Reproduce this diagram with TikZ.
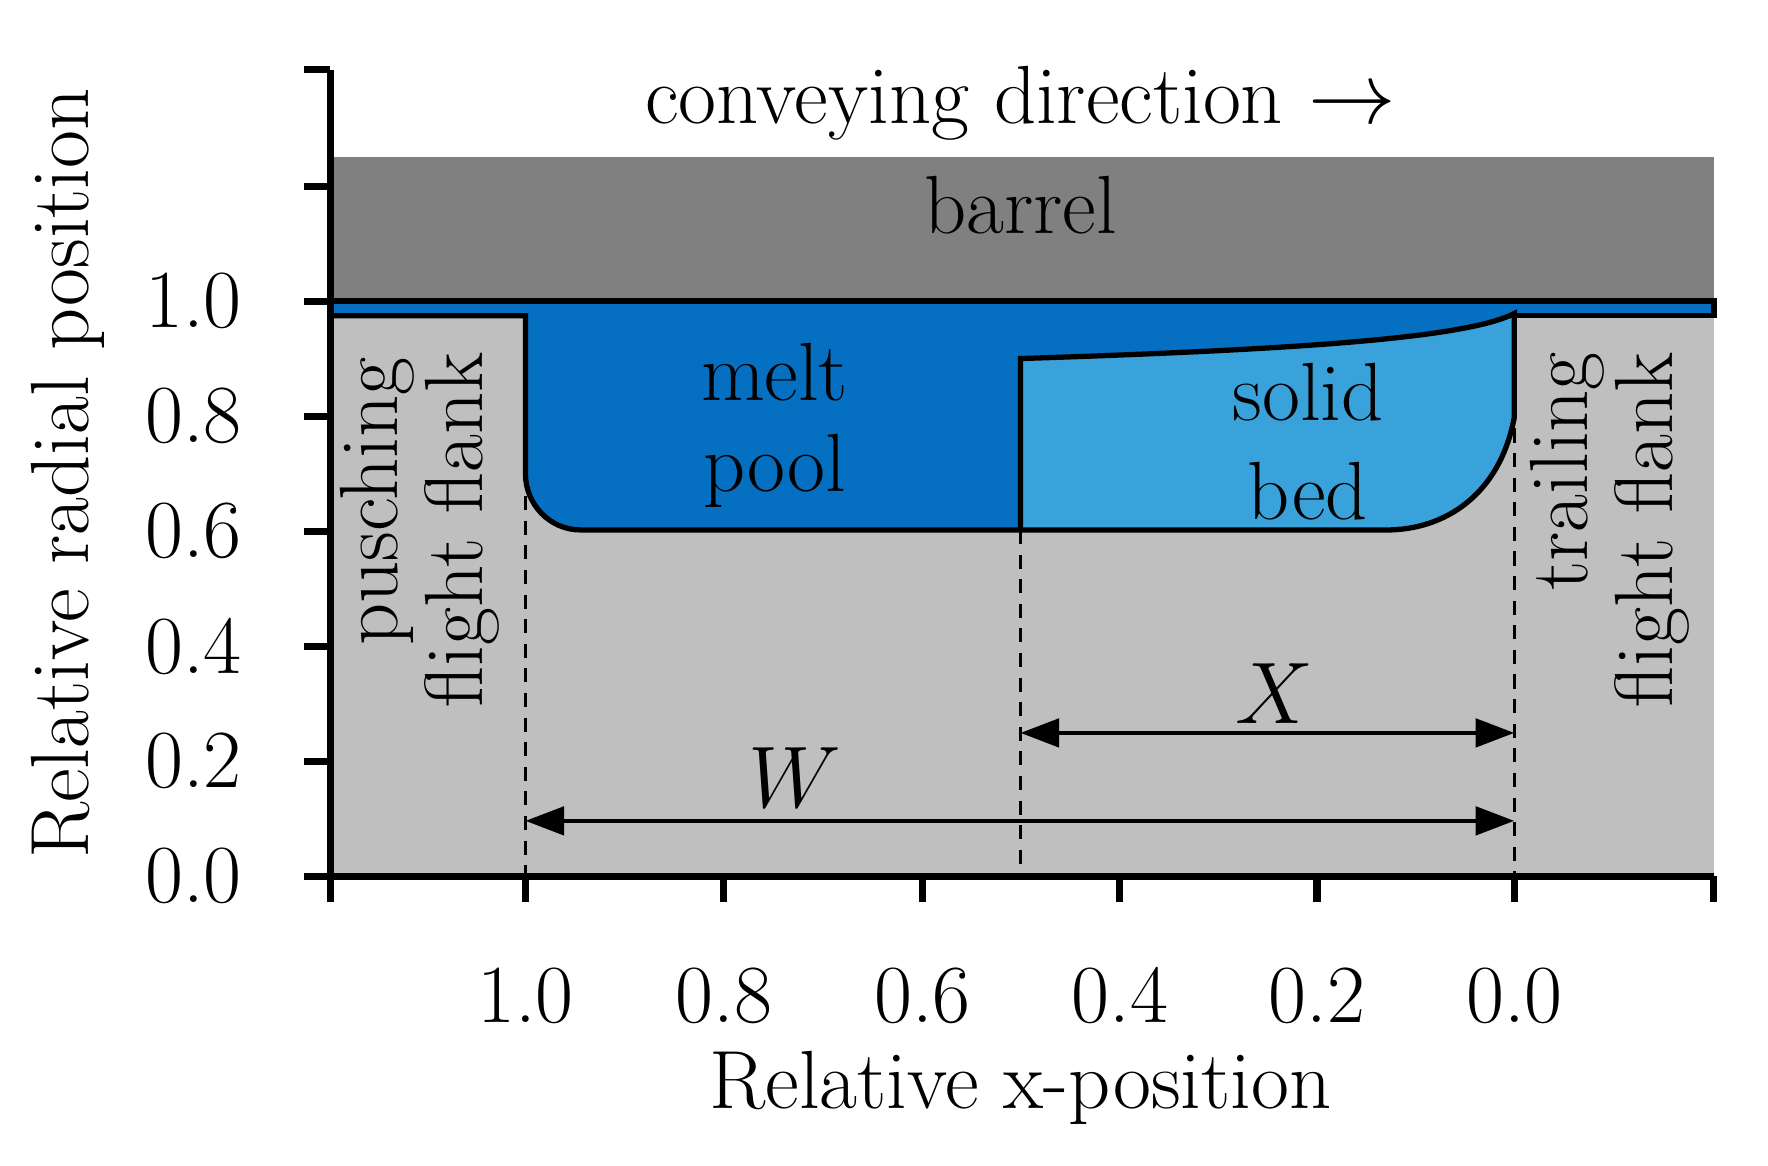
\documentclass[tikz,border=0pt]{standalone}
\usetikzlibrary{arrows.meta}
\begin{document}
\begin{tikzpicture}[x=0.011275cm,y=-0.011275cm,
  lbl/.style={font=\fontsize{23.5}{26}\selectfont, inner sep=0pt},
  dim/.style={line width=1.3pt,{Triangle[length=11pt,width=8pt]}-{Triangle[length=11pt,width=8pt]}},
  dsh/.style={line width=1pt,dash pattern=on 4pt off 3pt},
  ax/.style={line width=2pt}]
\useasboundingbox (0,0) rectangle (1568,1034);
\definecolor{meltc}{HTML}{0570C2}\definecolor{solidc}{HTML}{3AA2DA}
\fill[black!25] (293,267) rectangle (1520,777);
\fill[black!50] (293,139) rectangle (1520,267);
% melt layer + pool
\fill[meltc] (293,267) -- (1520,267) -- (1520,280) -- (1343,280) -- (1343,380) -- (905,470) -- (515,470) to[out=180,in=-90] (466,420) -- (466,280) -- (293,280) -- cycle;
\fill[solidc] (905,470) -- (905,318) .. controls (1150,310) and (1300,300) .. (1343,278) -- (1343,370) .. controls (1330,440) and (1280,470) .. (1230,470) -- cycle;
\draw[line width=1.5pt] (293,267) -- (1520,267) -- (1520,280) -- (1343,280);
\draw[line width=1.5pt] (293,280) -- (466,280) -- (466,420) to[out=-90,in=180] (515,470) -- (1230,470) .. controls (1280,470) and (1330,440) .. (1343,370) -- (1343,278) .. controls (1300,300) and (1150,310) .. (905,318) -- (905,470);
% dashed
\coordinate (d1a) at (466,440); \coordinate (d1b) at (466,777);
\coordinate (d2a) at (905,470); \coordinate (d2b) at (905,777);
\coordinate (d3a) at (1343,380); \coordinate (d3b) at (1343,777);
\draw[dsh] (d1a)--(d1b); \draw[dsh] (d2a)--(d2b); \draw[dsh] (d3a)--(d3b);
\coordinate (xa) at (905,650); \coordinate (xb) at (1343,650);
\coordinate (wa) at (466,728); \coordinate (wb) at (1343,728);
\draw[dim] (xa)--(xb); \draw[dim] (wa)--(wb);
\node[lbl] (X) at (1130,615) {\fontsize{26}{28}\selectfont$X$};
\node[lbl] (W) at (705,690) {\fontsize{26}{28}\selectfont$W$};
% axes
\draw[ax] (293,62) -- (293,777) -- (1520,777);
\foreach \y/\t in {777/0.0,675/0.2,573/0.4,471/0.6,369/0.8,267/1.0} {
  \draw[ax] (270,\y) -- (293,\y);
  \node[lbl,anchor=east] at (215,\y) {\t};}
\draw[ax] (270,165) -- (293,165); \draw[ax] (270,62) -- (293,62);
\foreach \x/\t in {466/1.0,642/0.8,818/0.6,993/0.4,1168/0.2,1343/0.0} {
  \draw[ax] (\x,777) -- (\x,800);
  \node[lbl] at (\x,883) {\t};}
\draw[ax] (293,777) -- (293,800); \draw[ax] (1520,777) -- (1520,800);
\node[lbl] (xl) at (905,965) {Relative x-position};
\node[lbl,rotate=90] (yl) at (60,420) {Relative radial position};
% labels
\node[lbl] (conv) at (905,92) {conveying direction $\rightarrow$};
\node[lbl] (bar) at (905,182) {barrel};
\node[lbl] (m1) at (687,330) {melt};
\node[lbl] (m2) at (687,418) {pool};
\node[lbl] (s1) at (1160,348) {solid};
\node[lbl] (s2) at (1160,436) {bed};
\node[lbl,rotate=90] (p1) at (335,445) {pusching};
\node[lbl,rotate=90] (p2) at (410,470) {flight flank};
\node[lbl,rotate=90] (t1) at (1390,418) {trailing};
\node[lbl,rotate=90] (t2) at (1465,470) {flight flank};
\end{tikzpicture}
\end{document}
